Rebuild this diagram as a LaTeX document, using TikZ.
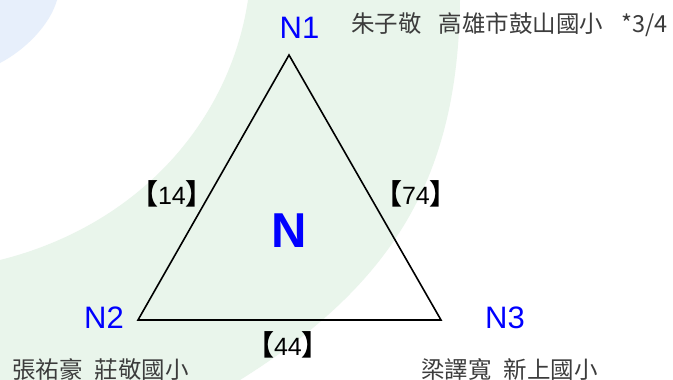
\documentclass[tikz,border=0pt]{standalone}
\usepackage{fontspec}
\setmainfont{Liberation Sans}
\newfontfamily\cjk{Noto Sans CJK TC}
\definecolor{bggreen}{RGB}{233,245,235}
\definecolor{bgblue}{RGB}{231,239,251}
\definecolor{txtgray}{RGB}{60,60,60}
\definecolor{nblue}{RGB}{0,0,255}
\tikzset{
  vname/.style={inner sep=0pt, anchor=base, text=nblue, font=\fontsize{31}{31}\selectfont},
  cname/.style={inner sep=0pt, anchor=base, text=nblue, font=\fontsize{49}{49}\selectfont\bfseries},
  wlabel/.style={inner sep=0pt, anchor=base, text=black, font=\fontsize{25}{25}\selectfont},
  person/.style={inner sep=0pt, anchor=base west, text=txtgray, font=\fontsize{23.5}{23.5}\selectfont\cjk},
  edge/.style={draw=black, line width=1.6pt, line join=miter}
}
\newcommand{\lb}{{\cjk\bfseries\fontsize{28}{28}\selectfont 【}}
\newcommand{\rb}{{\cjk\bfseries\fontsize{28}{28}\selectfont 】}}
\begin{document}
\begin{tikzpicture}[x=1pt,y=-1pt]
\useasboundingbox (0,0) rectangle (673,380);
\fill[white] (0,0) rectangle (673,380);
% background decoration
\fill[bgblue] (0,0) -- (57,0) .. controls (50,25) and (25,50) .. (0,63) -- cycle;
\fill[bggreen] (248,0) -- (460,0)
  .. controls (458,170) and (400,280) .. (240,380)
  -- (0,380) -- (0,260)
  .. controls (140,225) and (230,120) .. (248,0) -- cycle;
% triangle
\coordinate (A) at (289,55);
\coordinate (B) at (138,320);
\coordinate (C) at (441,320);
\draw[edge] (A) -- (B) -- (C) -- cycle;
% vertex names
\node[vname] (n1) at (299.5,38) {N1};
\node[vname] (n2) at (104,328) {N2};
\node[vname] (n3) at (505,328) {N3};
\node[cname] (nc) at (289,247) {N};
% edge labels
\node[wlabel] (l14) at (172,204) {\lb14\rb};
\node[wlabel] (l74) at (416,204) {\lb74\rb};
\node[wlabel] (l44) at (288,355) {\lb44\rb};
% people
\node[person] (p1) at (351,32) {朱子敬\hspace{17pt}高雄市鼓山國小\hspace{18pt}*3/4};
\node[person] (p2) at (12,378) {張祐豪\hspace{12pt}莊敬國小};
\node[person] (p3) at (421,378) {梁譯寬\hspace{12pt}新上國小};
\end{tikzpicture}
\end{document}
